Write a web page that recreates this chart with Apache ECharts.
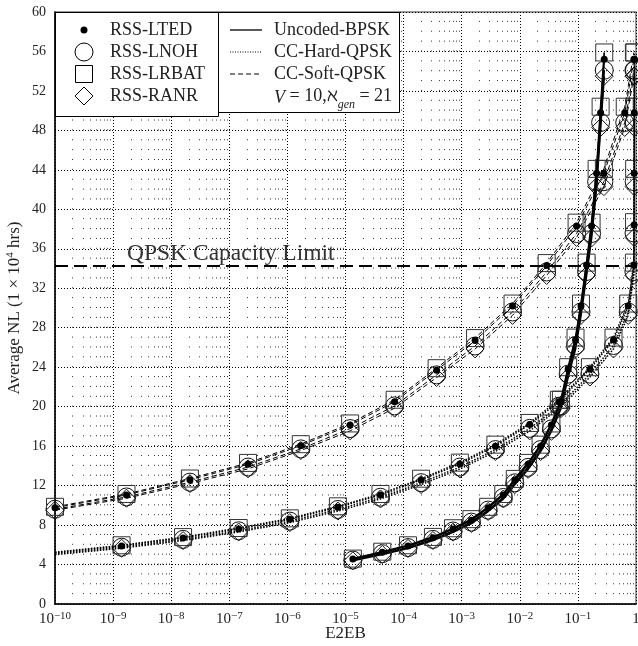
<!DOCTYPE html>
<html><head><meta charset="utf-8">
<script src="https://cdn.jsdelivr.net/npm/echarts@6/dist/echarts.min.js"></script>
<style>html,body{margin:0;padding:0;background:#fff}#c{width:638px;height:646px}</style>
</head><body><div id="c"></div>
<script>
// ---------- data ----------
const algorithms = ['RSS-LTED', 'RSS-LNOH', 'RSS-LRBAT', 'RSS-RANR'];
const schemes = ['Uncoded-BPSK', 'CC-Hard-QPSK', 'CC-Soft-QPSK'];
const yTicks = [0, 4, 8, 12, 16, 20, 24, 28, 32, 36, 40, 44, 48, 52, 56, 60];
const xDecades = [1e-10, 1e-9, 1e-8, 1e-7, 1e-6, 1e-5, 1e-4, 1e-3, 1e-2, 1e-1, 1];
const capacityLimit = 34.25;

// Uncoded-BPSK
const uncodedX = [1.34e-5, 4.3e-5, 1.19e-4, 3.2e-4, 7.1e-4, 1.47e-3, 2.85e-3, 5.2e-3, 8.2e-3, 0.0139, 0.0228, 0.035, 0.051, 0.068, 0.091, 0.113, 0.141, 0.172, 0.21, 0.246, 0.284];
const uncodedLTED  = [4.56, 5.24, 5.88, 6.72, 7.6, 8.5, 9.76, 11.05, 12.57, 14.16, 16.0, 18.14, 20.5, 23.8, 26.75, 30.2, 34.36, 38.3, 43.65, 49.8, 55.2];
const uncodedLNOH  = [4.45, 5.1, 5.72, 6.55, 7.4, 8.3, 9.52, 10.8, 12.28, 13.85, 15.65, 17.75, 20.05, 23.3, 26.2, 29.6, 33.7, 37.55, 42.8, 48.8, 54.1];
const uncodedLRBAT = [4.6, 5.3, 5.95, 6.8, 7.68, 8.6, 9.85, 11.15, 12.68, 14.3, 16.15, 18.3, 20.7, 24.0, 27.0, 30.45, 34.6, 38.65, 44.1, 50.4, 55.9];
const uncodedRANR  = [4.38, 5.02, 5.63, 6.44, 7.28, 8.16, 9.38, 10.64, 12.1, 13.65, 15.45, 17.5, 19.8, 23.0, 25.85, 29.25, 33.3, 37.1, 42.3, 48.3, 53.5];

// CC-Hard-QPSK (first point: line start at the axis, no marker)
const hardX = [1e-10, 1.4e-9, 1.6e-8, 1.45e-7, 1.1e-6, 7.4e-6, 4e-5, 2e-4, 9.3e-4, 3.8e-3, 0.0148, 0.047, 0.161, 0.41, 0.735, 0.92, 0.925, 0.93, 0.935, 0.94];
const hardLTED  = [5.2, 5.88, 6.69, 7.6, 8.58, 9.8, 11.05, 12.57, 14.19, 16.0, 18.2, 20.5, 23.8, 26.75, 30.2, 34.35, 38.4, 43.65, 49.8, 55.2];
const hardLNOH  = [5.1, 5.75, 6.55, 7.42, 8.4, 9.58, 10.82, 12.3, 13.88, 15.65, 17.8, 20.05, 23.3, 26.2, 29.6, 33.7, 37.6, 42.8, 48.8, 54.1];
const hardLRBAT = [5.25, 5.95, 6.78, 7.7, 8.68, 9.9, 11.15, 12.7, 14.33, 16.15, 18.35, 20.7, 24.0, 27.0, 30.45, 34.6, 38.7, 44.1, 50.4, 55.9];
const hardRANR  = [5.0, 5.65, 6.43, 7.3, 8.25, 9.42, 10.65, 12.1, 13.68, 15.45, 17.55, 19.8, 23.0, 25.85, 29.25, 33.3, 37.15, 42.3, 48.3, 53.5];

// CC-Soft-QPSK
const softX = [1e-10, 1.7e-9, 2.1e-8, 2.1e-7, 1.7e-6, 1.2e-5, 7e-5, 3.7e-4, 1.7e-3, 7.5e-3, 0.029, 0.095, 0.28, 0.64, 0.92];
const softLTED  = [9.76, 11.05, 12.6, 14.16, 16.05, 18.14, 20.5, 23.7, 26.7, 30.2, 34.3, 38.3, 43.65, 49.8, 55.2];
const softLNOH  = [9.6, 10.85, 12.35, 13.88, 15.72, 17.78, 20.08, 23.22, 26.15, 29.6, 33.65, 37.55, 42.8, 48.8, 54.1];
const softLRBAT = [9.85, 11.15, 12.72, 14.3, 16.2, 18.3, 20.7, 23.9, 26.95, 30.45, 34.55, 38.65, 44.1, 50.4, 55.9];
const softRANR  = [9.5, 10.72, 12.2, 13.7, 15.55, 17.55, 19.85, 22.95, 25.85, 29.25, 33.3, 37.15, 42.3, 48.3, 53.5];

// ---------- styling ----------
const FONT = 'Liberation Serif';
const TXT = '#222';
const schemeData = {
  'Uncoded-BPSK': {x: uncodedX, y: {'RSS-LTED': uncodedLTED, 'RSS-LNOH': uncodedLNOH, 'RSS-LRBAT': uncodedLRBAT, 'RSS-RANR': uncodedRANR}, hideFirst: false,
    line: {type: 'solid', width: 1.7}},
  'CC-Hard-QPSK': {x: hardX, y: {'RSS-LTED': hardLTED, 'RSS-LNOH': hardLNOH, 'RSS-LRBAT': hardLRBAT, 'RSS-RANR': hardRANR}, hideFirst: true,
    line: {type: [1.5, 1.5], width: 1.5}},
  'CC-Soft-QPSK': {x: softX, y: {'RSS-LTED': softLTED, 'RSS-LNOH': softLNOH, 'RSS-LRBAT': softLRBAT, 'RSS-RANR': softRANR}, hideFirst: false,
    line: {type: [5, 3], width: 1}}
};
const markerStyle = {
  'RSS-LTED':  {symbol: 'circle', symbolSize: 7, itemStyle: {color: '#000', borderWidth: 0}, z: 6},
  'RSS-LNOH':  {symbol: 'circle', symbolSize: 18, itemStyle: {color: 'rgba(0,0,0,0)', borderColor: '#111', borderWidth: 1}, z: 4},
  'RSS-LRBAT': {symbol: 'rect', symbolSize: 17, itemStyle: {color: 'rgba(0,0,0,0)', borderColor: '#333', borderWidth: 1}, z: 4},
  'RSS-RANR':  {symbol: 'diamond', symbolSize: 18, itemStyle: {color: 'rgba(0,0,0,0)', borderColor: '#111', borderWidth: 1}, z: 4}
};

const series = [];
schemes.forEach(s => {
  const sd = schemeData[s];
  algorithms.forEach(a => {
    const ms = markerStyle[a];
    const data = sd.x.map((xv, i) => {
      const item = {value: [xv, sd.y[a][i]]};
      if (sd.hideFirst && i === 0) item.symbol = 'none';
      return item;
    });
    series.push({
      type: 'line', name: a + ' / ' + s, data: data,
      symbol: ms.symbol, symbolSize: ms.symbolSize, itemStyle: ms.itemStyle,
      lineStyle: {color: '#000', width: sd.line.width, type: sd.line.type},
      z: ms.z, silent: true, clip: false
    });
  });
});

// minor vertical grid (log minor ticks 2..9 in each decade), drawn through the axis scale
const minorX = [];
for (let d = 0; d < xDecades.length - 1; d++) for (let m = 2; m <= 9; m++) minorX.push(m * xDecades[d]);
const yMin = yTicks[0], yMax = yTicks[yTicks.length - 1];
series.unshift({
  type: 'custom', data: minorX.map(v => [v, yMin]), z: 1, silent: true, clip: true,
  encode: {x: 0, y: 1},
  renderItem: (params, api) => {
    const v = api.value(0);
    const p0 = api.coord([v, yMin]);
    const p1 = api.coord([v, yMax]);
    const x = Math.round(p0[0]) + 0.5;
    return {type: 'line', shape: {x1: x, y1: p0[1], x2: x, y2: p1[1]},
      style: {stroke: '#333', lineWidth: 1, lineDash: [1, 8.8667]}};
  }
});
// capacity limit line
series.push({
  type: 'line', data: [], z: 5, silent: true,
  markLine: {silent: true, symbol: ['none', 'none'], animation: false,
    lineStyle: {color: '#000', width: 2.2, type: [13, 6]},
    label: {show: true, position: 'insideStartTop', formatter: 'QPSK Capacity Limit', distance: [72, 0],
      fontFamily: FONT, fontSize: 23.5, color: '#333'},
    data: [{yAxis: capacityLimit}]}
});

// ---------- legend (drawn as graphic) ----------
const rows = [30, 52, 74, 96];
const g = [];
g.push({type: 'rect', shape: {x: 55.5, y: 12.5, width: 163, height: 104}, style: {fill: '#fff', stroke: '#000', lineWidth: 1}, z: 50});
g.push({type: 'rect', shape: {x: 218.5, y: 12.5, width: 181, height: 100}, style: {fill: '#fff', stroke: '#000', lineWidth: 1}, z: 50});
const mx = 84;
g.push({type: 'circle', shape: {cx: mx, cy: rows[0], r: 3.5}, style: {fill: '#000'}, z: 51});
g.push({type: 'circle', shape: {cx: mx, cy: rows[1], r: 9}, style: {fill: 'none', stroke: '#000', lineWidth: 1}, z: 51});
g.push({type: 'rect', shape: {x: mx - 8.5, y: rows[2] - 8.5, width: 17, height: 17}, style: {fill: 'none', stroke: '#000', lineWidth: 1}, z: 51});
g.push({type: 'polygon', shape: {points: [[mx, rows[3] - 9], [mx + 9, rows[3]], [mx, rows[3] + 9], [mx - 9, rows[3]]]}, style: {fill: 'none', stroke: '#000', lineWidth: 1}, z: 51});
algorithms.forEach((a, i) => g.push({type: 'text', x: 110, y: rows[i], style: {text: a, fontFamily: FONT, fontSize: 18, fill: TXT, verticalAlign: 'middle'}, z: 51}));
schemes.forEach((s, i) => {
  const ls = schemeData[s].line;
  g.push({type: 'line', shape: {x1: 230, y1: rows[i], x2: 262, y2: rows[i]},
    style: {stroke: '#000', lineWidth: i === 0 ? 1.3 : 1, lineDash: Array.isArray(ls.type) ? (i === 1 ? [1, 1.5] : ls.type) : null}, z: 51});
  g.push({type: 'text', x: 274, y: rows[i], style: {text: s, fontFamily: FONT, fontSize: 18, fill: TXT, verticalAlign: 'middle'}, z: 51});
});
g.push({type: 'text', x: 274, y: rows[3] - 11, style: {
  text: '{i|V} = 10,ℵ{sub|gen} = 21', fontFamily: FONT, fontSize: 18, fill: TXT,
  rich: {i: {fontStyle: 'italic', fontFamily: FONT, fontSize: 18, lineHeight: 22, verticalAlign: 'bottom'},
         sub: {fontStyle: 'italic', fontFamily: FONT, fontSize: 12, lineHeight: 16, verticalAlign: 'bottom', padding: [0, 0, -4, 0]}}}, z: 51});

// ---------- chart ----------
const chart = echarts.init(document.getElementById('c'));
chart.setOption({
  animation: false,
  backgroundColor: '#fff',
  grid: {left: 55, right: 2, top: 12, bottom: 42, show: true, borderColor: '#777', borderWidth: 1.5,
    containLabel: false, outerBoundsMode: 'none'},
  xAxis: {
    type: 'log', logBase: 10, min: xDecades[0], max: xDecades[xDecades.length - 1], splitNumber: 10, interval: 1,
    name: 'E2EB', nameLocation: 'middle', nameGap: 21, nameMoveOverlap: false,
    nameTextStyle: {fontFamily: FONT, fontSize: 17, color: TXT},
    axisLine: {show: true, onZero: false, lineStyle: {color: '#000', width: 1.5}},
    axisTick: {show: false},
    axisLabel: {margin: 7, fontFamily: FONT, color: TXT, interval: 0,
      formatter: v => {
        const e = Math.round(Math.log10(v));
        if (e === 0) return '{b|1}';
        return '{b|10}{s|−' + (-e) + '}';
      },
      rich: {b: {fontFamily: FONT, fontSize: 15, color: TXT, lineHeight: 16, verticalAlign: 'bottom'},
             s: {fontFamily: FONT, fontSize: 11, color: TXT, lineHeight: 16, verticalAlign: 'top'}}},
    splitLine: {show: true, lineStyle: {color: '#000', width: 1, type: [1, 2]}}
  },
  yAxis: {
    type: 'value', min: yMin, max: yMax, interval: 4,
    name: 'Average NL (1 × 10{sup|4} hrs)', nameLocation: 'middle', nameGap: 30, nameMoveOverlap: false,
    nameTextStyle: {fontFamily: FONT, fontSize: 17, color: TXT,
      rich: {sup: {fontFamily: FONT, fontSize: 11, color: TXT, verticalAlign: 'top', lineHeight: 20}}},
    axisLine: {show: true, lineStyle: {color: '#000', width: 1.5}},
    axisTick: {show: false},
    axisLabel: {margin: 9, fontFamily: FONT, fontSize: 14, color: TXT},
    splitLine: {show: true, lineStyle: {color: '#000', width: 1, type: [1, 2]}}
  },
  graphic: g,
  series: series
});
</script>
</body></html>
